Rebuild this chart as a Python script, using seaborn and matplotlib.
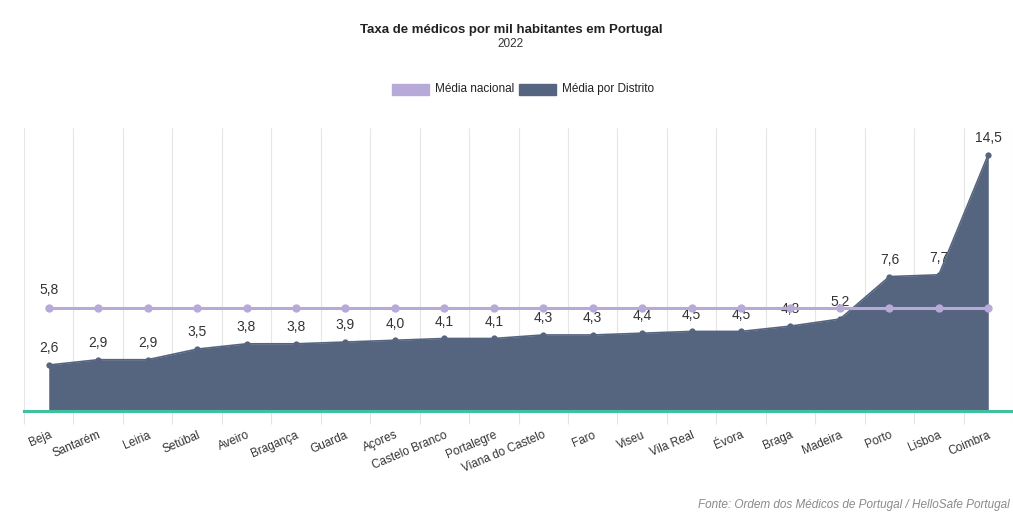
import matplotlib
matplotlib.use("Agg")
import matplotlib.pyplot as plt
import seaborn as sns
import pandas as pd
import numpy as np
from matplotlib.patches import Rectangle

districts = ["Beja", "Santarém", "Leiria", "Setúbal", "Aveiro", "Bragança", "Guarda",
             "Açores", "Castelo Branco", "Portalegre", "Viana do Castelo", "Faro", "Viseu",
             "Vila Real", "Évora", "Braga", "Madeira", "Porto", "Lisboa", "Coimbra"]
district_rate = [2.6, 2.9, 2.9, 3.5, 3.8, 3.8, 3.9, 4.0, 4.1, 4.1, 4.3, 4.3, 4.4,
                 4.5, 4.5, 4.8, 5.2, 7.6, 7.7, 14.5]
national_rate = [5.8] * 20

AREA = "#56657f"
PURPLE = "#b7aad8"
GREEN = "#41c09f"
TXT = "#333333"

sns.set_theme(style="white")
plt.rcParams['font.family'] = ['Liberation Sans', 'DejaVu Sans']

df = pd.DataFrame({"x": np.arange(len(districts)), "district": districts,
                   "distrito": district_rate, "nacional": national_rate})

fig = plt.figure(figsize=(10.13, 5.12), dpi=100)
W, H = 1013, 512
ax = fig.add_axes([24 / W, 101 / H, 989 / W, 283 / H])

ax.fill_between(df["x"], 0, df["distrito"], color=AREA, zorder=2, linewidth=0)
sns.lineplot(data=df, x="x", y="distrito", ax=ax, color=AREA, linewidth=1.2,
             marker="o", markersize=4.5, markeredgewidth=0, zorder=3)
sns.lineplot(data=df, x="x", y="nacional", ax=ax, color=PURPLE, linewidth=2.2,
             marker="o", markersize=6, markeredgewidth=0, zorder=4)

for i, v in enumerate(district_rate):
    ax.annotate(f"{v:.1f}".replace(".", ","), (i, v), xytext=(0, 7),
                textcoords="offset points", ha="center", va="bottom",
                fontsize=10, color=TXT, zorder=1)
ax.annotate(f"{national_rate[0]:.1f}".replace(".", ","), (0, national_rate[0]),
            xytext=(0, 8), textcoords="offset points", ha="center", va="bottom",
            fontsize=10, color=TXT, zorder=1)

ax.set_xlim(-0.5, 19.4)
ax.set_ylim(0, 16)
ax.set_xlabel("")
ax.set_ylabel("")
ax.set_yticks([])
ax.set_xticks(df["x"])
ax.set_xticklabels(districts, rotation=23, ha="right", rotation_mode="anchor",
                   fontsize=8.5, color=TXT)
ax.set_xticks(np.arange(-0.5, 20, 1), minor=True)
ax.tick_params(axis="x", which="major", length=0, pad=13)
ax.tick_params(axis="x", which="minor", length=9, width=0.8, color="#e3e3e3", bottom=True)
ax.grid(False)
ax.xaxis.grid(True, which="minor", color="#e6e6e6", linewidth=0.8, zorder=0)
for s in ["left", "right", "top"]:
    ax.spines[s].set_visible(False)
ax.spines["bottom"].set_color(GREEN)
ax.spines["bottom"].set_linewidth(2.2)
ax.spines["bottom"].set_zorder(5)

fig.text(511 / W, 1 - 30 / H, "Taxa de médicos por mil habitantes em Portugal",
         ha="center", va="center", fontsize=9.5, fontweight="bold", color="#222222")
fig.text(511 / W, 1 - 44 / H, "2022", ha="center", va="center", fontsize=8.5, color="#333333")

# legend
fig.patches.append(Rectangle((392 / W, 1 - 95 / H), 37 / W, 11 / H, transform=fig.transFigure,
                             color=PURPLE, figure=fig))
fig.text(435 / W, 1 - 89 / H, "Média nacional", ha="left", va="center", fontsize=8.5,
         color="#222222")
fig.patches.append(Rectangle((519 / W, 1 - 95 / H), 37 / W, 11 / H, transform=fig.transFigure,
                             color=AREA, figure=fig))
fig.text(562 / W, 1 - 89 / H, "Média por Distrito", ha="left", va="center", fontsize=8.5,
         color="#222222")

fig.text(1010 / W, 1 - 505 / H, "Fonte: Ordem dos Médicos de Portugal / HelloSafe Portugal",
         ha="right", va="center", fontsize=8.5, style="italic", color="#8a8a8a")

fig.savefig("out.png", dpi=100)
